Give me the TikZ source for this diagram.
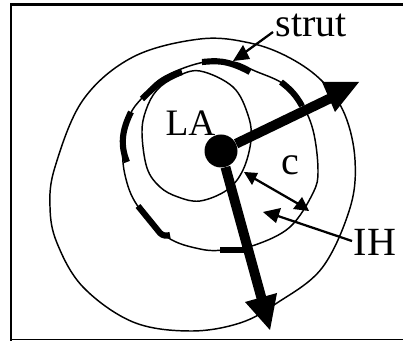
\documentclass[tikz,border=0pt]{standalone}
\usepackage{fontspec}
\setmainfont{Liberation Serif}
\tikzset{
  px/.style={x=0.75pt,y=-0.75pt},
  contourline/.style={draw=black,line width=1.1pt},
  strutseg/.style={draw=black,line width=4.6pt,line join=round},
  axle/.style={draw=black,line width=7.4pt},
  headfill/.style={fill=black,draw=none},
  leader/.style={draw=black,line width=1.7pt},
  lab/.style={font=\fontsize{30}{30}\selectfont,inner sep=0pt,text=black,anchor=base},
}
\begin{document}
\begin{tikzpicture}[px]
\useasboundingbox (0,0) rectangle (403,341);
\fill[white] (0,0) rectangle (403,341);
\fill[black] (10,3) rectangle (403,6);
\fill[black] (10,3) rectangle (12,341);
\fill[black] (10,339) rectangle (403,340.5);
% outer contour
\draw[contourline] plot[smooth cycle,tension=0.6] coordinates {(200,39) (250,43) (290,58) (323,82) (345,115) (355,160) (350,208) (322,268) (277,303) (240,323) (190,331) (133,322) (83,287) (57,243) (50,207) (55,167) (83,100) (133,57)};
% middle contour
\draw[contourline] plot[smooth cycle,tension=0.6] coordinates {(200,63) (233,62) (255,71) (282,83) (300,101) (313,130) (318,170) (313,193) (290,227) (255,245) (225,250) (200,249) (167,237) (137,205) (125,175) (123,145) (130,115) (142,98) (162,78)};
% LA contour
\draw[contourline] plot[smooth cycle,tension=0.6] coordinates {(200,71) (233,87) (248,115) (251,140) (243,170) (227,190) (200,201) (178,197) (160,187) (147,168) (142,133) (146,110) (157,90) (176,77)};
% struts
\draw[strutseg] (202,62) .. controls (215,61) and (226,59) .. (250,72);
\draw[strutseg] (281,82) .. controls (290,89) and (296,95) .. (302,106);
\draw[strutseg] (142,99) .. controls (155,86) and (165,77) .. (182,72);
\draw[strutseg] (131,112) .. controls (122,130) and (120,145) .. (127,162);
\draw[strutseg] (138,206) -- (160,233) .. controls (163,236) and (166,236) .. (170,235);
\draw[strutseg] (220,250) -- (245,250);
% hub and big arrows
\node[circle,fill=black,minimum size=24.75pt,inner sep=0pt] (hub) at (221,151) {};
\coordinate (upEnd) at (335,96);
\coordinate (downEnd) at (262,300);
\draw[axle] (hub) -- (upEnd);
\draw[axle] (hub) -- (downEnd);
\path[headfill] (359,82) -- (322,82) -- (335,112) -- cycle;
\path[headfill] (270,330) -- (245,302) -- (277,293) -- cycle;
% labels
\node[lab] (strut) at (311.5,37) {strut};
\node[lab,font=\fontsize{28}{28}\selectfont] (la) at (190.5,136) {LA};
\node[lab] (c) at (290,175) {c};
\node[lab] (ih) at (375,256) {IH};
% leaders
\coordinate (strutFrom) at (273,32);
\coordinate (strutTo) at (240,56);
\draw[leader] (strutFrom) -- (strutTo);
\path[headfill] (233,61) -- (243,45) -- (250,59) -- cycle;
\coordinate (cA) at (250,176);
\coordinate (cB) at (302,206);
\draw[leader] (cA) -- (cB);
\path[headfill] (244,172) -- (258,173) -- (252,185) -- cycle;
\path[headfill] (309,211) -- (302,197) -- (293,209) -- cycle;
\coordinate (ihFrom) at (352,241);
\coordinate (ihTo) at (272,214);
\draw[leader] (ihFrom) -- (ihTo);
\path[headfill] (263,212) -- (281,208) -- (276,223) -- cycle;
\end{tikzpicture}
\end{document}
